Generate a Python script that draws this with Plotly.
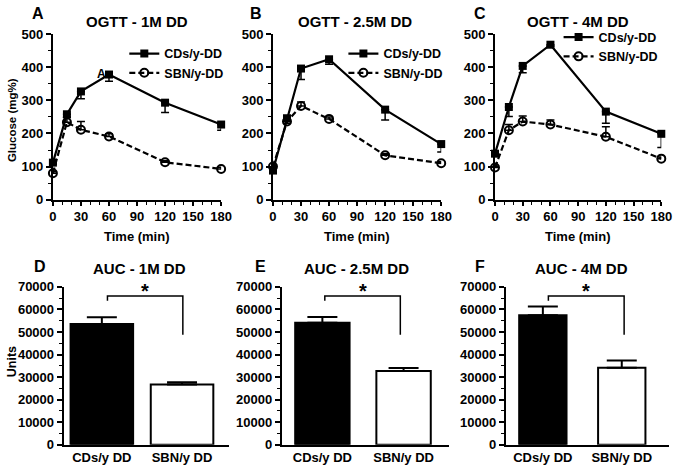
import plotly.graph_objects as go

# ---------------- data ----------------
time_min = [0, 15, 30, 60, 120, 180]
series_names = ["CDs/y-DD", "SBN/y-DD"]

# Panel A: OGTT - 1M DD
a_cds = [112, 258, 327, 378, 293, 227]
a_cds_err = [5, 10, 22, 20, 30, 17]
a_sbn = [80, 234, 211, 191, 113, 93]
a_sbn_err = [5, 15, 25, 8, 5, 5]

# Panel B: OGTT - 2.5M DD
b_cds = [88, 246, 396, 424, 272, 168]
b_cds_err = [8, 15, 33, 15, 31, 24]
b_sbn = [100, 236, 283, 244, 134, 110]
b_sbn_err = [5, 8, 12, 6, 5, 5]

# Panel C: OGTT - 4M DD
c_cds = [139, 280, 404, 468, 266, 199]
c_cds_err = [8, 29, 21, 5, 35, 41]
c_sbn = [97, 210, 236, 227, 190, 124]
c_sbn_err = [5, 17, 17, 14, 30, 5]

# AUC panels
bar_labels = ["CDs/y DD", "SBN/y DD"]
d_auc = [53500, 26700]
d_auc_err = [3000, 1000]
e_auc = [54100, 32700]
e_auc_err = [2500, 1300]
f_auc = [57400, 34100]
f_auc_err = [3850, 3200]

line_titles = ["OGTT - 1M DD", "OGTT - 2.5M DD", "OGTT - 4M DD"]
bar_titles = ["AUC - 1M DD", "AUC - 2.5M DD", "AUC - 4M DD"]
panel_letters = ["A", "B", "C", "D", "E", "F"]

# ---------------- figure ----------------
W, H = 685, 475
FONT = "Liberation Sans, Arial, Helvetica, sans-serif"


def fx(px):
    return px / W


def fy(py):
    return 1 - py / H


fig = go.Figure()

line_sets = [
    (a_cds, a_cds_err, a_sbn, a_sbn_err),
    (b_cds, b_cds_err, b_sbn, b_sbn_err),
    (c_cds, c_cds_err, c_sbn, c_sbn_err),
]
legend_ids = ["legend", "legend2", "legend3"]

for i, (cds, cds_e, sbn, sbn_e) in enumerate(line_sets):
    xa = "x" if i == 0 else f"x{i+1}"
    ya = "y" if i == 0 else f"y{i+1}"
    fig.add_trace(go.Scatter(
        x=time_min, y=sbn, name=series_names[1], xaxis=xa, yaxis=ya,
        mode="lines+markers", cliponaxis=False, legend=legend_ids[i],
        line=dict(color="black", width=2.2, dash="6px,3px"),
        marker=dict(symbol="circle-open", size=8, color="black", line=dict(width=2)),
        error_y=dict(type="data", array=sbn_e, arrayminus=[0] * len(sbn_e),
                     color="black", thickness=1.5, width=4),
        legendrank=2,
    ))
    fig.add_trace(go.Scatter(
        x=time_min, y=cds, name=series_names[0], xaxis=xa, yaxis=ya,
        mode="lines+markers", cliponaxis=False, legend=legend_ids[i],
        line=dict(color="black", width=2.2),
        marker=dict(symbol="square", size=8, color="black"),
        error_y=dict(type="data", array=[0] * len(cds_e), arrayminus=cds_e,
                     color="black", thickness=1.5, width=4),
        legendrank=1,
    ))

bar_sets = [(d_auc, d_auc_err), (e_auc, e_auc_err), (f_auc, f_auc_err)]
bar_widths = [0.78, 0.67, 0.6]
brackets = [(0.07, 1.01), (0.03, 0.96), (0.07, 1.03)]
for j, (vals, errs) in enumerate(bar_sets):
    k = j + 4
    xa, ya = f"x{k}", f"y{k}"
    fig.add_trace(go.Bar(
        x=[0, 1], y=vals, xaxis=xa, yaxis=ya, width=bar_widths[j],
        marker=dict(color=["black", "white"], line=dict(color="black", width=2)),
        error_y=dict(type="data", array=errs, arrayminus=[0, 0],
                     color="black", thickness=2, width=15),
        showlegend=False,
    ))
    bl, br = brackets[j]
    fig.add_trace(go.Scatter(
        x=[bl, bl, br, br], y=[63800, 66000, 66000, 48800], xaxis=xa, yaxis=ya,
        mode="lines", line=dict(color="black", width=1.5), cliponaxis=False,
        showlegend=False, hoverinfo="skip",
    ))
    fig.add_annotation(x=(bl + br) / 2, y=68300, xref=xa, yref=ya, text="*",
                       showarrow=False, font=dict(family=FONT, size=20, color="black", weight="bold"))

tickfont = dict(family=FONT, size=13, color="black", weight="bold")
axis_common = dict(showline=True, linecolor="black", linewidth=2, ticks="outside",
                   tickcolor="black", tickwidth=1.5, showgrid=False, zeroline=False,
                   tickfont=tickfont, fixedrange=True)

line_xdom = [(50, 222), (275, 447), (502, 672)]
bar_xdom = [(61, 230), (284, 455), (513, 680)]
bar_xrange = [(-0.476, 1.585), (-0.5, 1.56), (-0.47, 1.6)]

layout = dict(
    width=W, height=H, margin=dict(l=0, r=0, t=0, b=0),
    paper_bgcolor="white", plot_bgcolor="white", showlegend=True,
    font=dict(family=FONT, color="black"),
)

for i in range(3):
    n = "" if i == 0 else str(i + 1)
    layout[f"xaxis{n}"] = dict(
        axis_common, domain=[fx(line_xdom[i][0]), fx(line_xdom[i][1])], range=[0, 180],
        tickvals=[0, 30, 60, 90, 120, 150, 180], ticklen=4,
        minor=dict(dtick=10, tick0=0, ticks="outside", ticklen=3, tickcolor="black", tickwidth=1),
        anchor=f"y{n}",
    )
    layout[f"yaxis{n}"] = dict(
        axis_common, domain=[fy(199), fy(28)], range=[0, 500], dtick=100, ticklen=5,
        minor=dict(dtick=50, tick0=0, ticks="outside", ticklen=3, tickcolor="black", tickwidth=1),
        anchor=f"x{n}",
    )
for j in range(3):
    k = j + 4
    layout[f"xaxis{k}"] = dict(
        axis_common, domain=[fx(bar_xdom[j][0]), fx(bar_xdom[j][1])], range=list(bar_xrange[j]),
        tickvals=[0, 1], ticktext=bar_labels, ticks="", anchor=f"y{k}",
    )
    layout[f"yaxis{k}"] = dict(
        axis_common, domain=[fy(452), fy(289)], range=[0, 70000], dtick=10000, ticklen=5,
        tickformat="d",
        minor=dict(dtick=5000, tick0=0, ticks="outside", ticklen=3, tickcolor="black", tickwidth=1),
        anchor=f"x{k}",
    )

legfont = dict(family=FONT, size=12.5, color="black", weight="bold")
legend_pos = [(123, 33), (347, 33), (567, 16)]
for i, lid in enumerate(legend_ids):
    lx, ly = legend_pos[i]
    layout[lid] = dict(x=fx(lx), y=fy(ly), xanchor="left", yanchor="top", xref="paper", yref="paper",
                       bgcolor="rgba(0,0,0,0)", font=legfont, itemwidth=30, tracegroupgap=0)

fig.update_layout(**layout)

ann_font = dict(family=FONT, size=15, color="black", weight="bold")
title_pos = [(136, 15), (359, 15), (587, 15), (139, 270), (360, 270), (590, 270)]
titles = line_titles + bar_titles
for t, (px, py) in zip(titles, title_pos):
    fig.add_annotation(x=fx(px), y=fy(py), xref="paper", yref="paper", text=t, showarrow=False,
                       xanchor="center", yanchor="middle", font=ann_font)

letter_pos = [(35, 7), (258, 7), (487, 7), (37, 268), (262, 268), (487, 268)]
for t, (px, py) in zip(panel_letters, letter_pos):
    fig.add_annotation(x=fx(px), y=fy(py), xref="paper", yref="paper", text=t, showarrow=False,
                       xanchor="center", yanchor="middle", font=dict(family=FONT, size=16, color="black", weight="bold"))

axis_title_font = dict(family=FONT, size=13, color="black", weight="bold")
for px in [136, 361, 587]:
    fig.add_annotation(x=fx(px), y=fy(237), xref="paper", yref="paper", text="Time (min)", showarrow=False,
                       xanchor="center", yanchor="middle", font=axis_title_font)
fig.add_annotation(x=fx(9), y=fy(117), xref="paper", yref="paper", text="Glucose (mg%)", showarrow=False,
                   textangle=-90, xanchor="center", yanchor="middle",
                   font=dict(family=FONT, size=11.5, color="black", weight="bold"))
fig.add_annotation(x=fx(9), y=fy(366), xref="paper", yref="paper", text="Units", showarrow=False,
                   textangle=-90, xanchor="center", yanchor="middle",
                   font=dict(family=FONT, size=12.5, color="black", weight="bold"))
# stray glyph visible near the 60-min point in panel A
fig.add_annotation(x=52, y=380, xref="x", yref="y", text="A", showarrow=False,
                   font=dict(family=FONT, size=12, color="black", weight="bold"))

fig.write_html(
    "out.html",
    config={"displayModeBar": False},
    post_script=("document.documentElement.style.margin='0';"
                 "document.documentElement.style.overflow='hidden';"
                 "document.body.style.margin='0';"
                 "document.body.style.overflow='hidden';"),
)
